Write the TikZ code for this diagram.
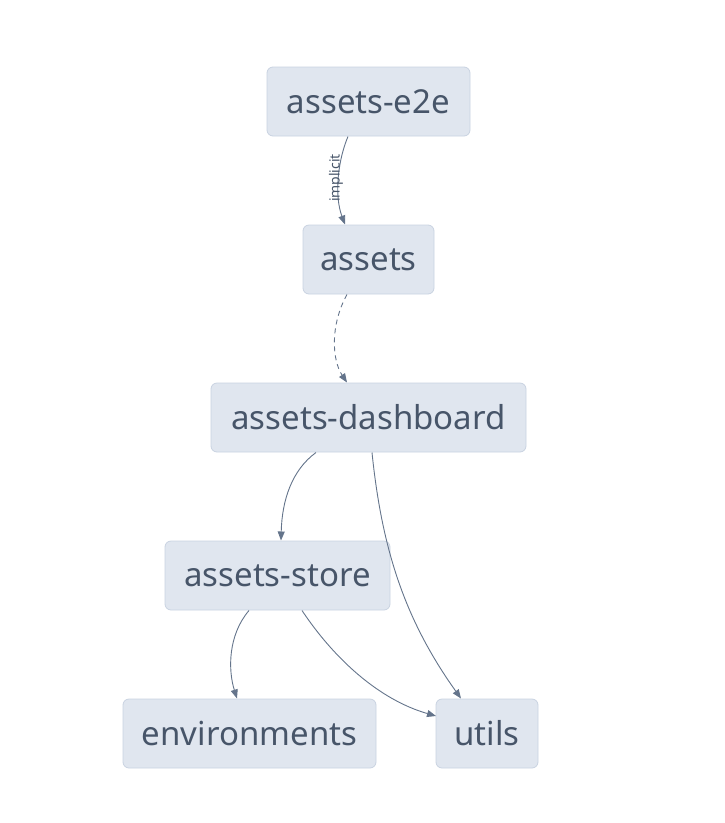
\documentclass[tikz,border=0pt]{standalone}
\usepackage{fontspec}
\setmainfont{Noto Sans}
\usetikzlibrary{arrows.meta}
\definecolor{boxfill}{HTML}{E0E6EF}
\definecolor{boxline}{HTML}{C9D3E1}
\definecolor{txt}{HTML}{475569}
\definecolor{edge}{HTML}{64748B}
\tikzset{
  mod/.style={draw=boxline, fill=boxfill, rounded corners=6pt, line width=0.8pt,
    text=txt, font=\fontsize{33}{38}\selectfont, inner sep=0pt, minimum height=69pt},
  dep/.style={draw=edge, line width=0.9pt, -{Triangle[length=9pt,width=7pt]}},
  lbl/.style={text=txt, font=\fontsize{14}{16}\selectfont, inner sep=0.5pt}
}
\begin{document}
\begin{tikzpicture}[x=1pt,y=-1pt]
\useasboundingbox (0,0) rectangle (725,823);
\node[mod, minimum width=203pt] (e2e) at (368.5,101.5) {assets-e2e};
\node[mod, minimum width=131pt] (assets) at (368.5,259.5) {assets};
\node[mod, minimum width=315pt] (dash) at (368.5,417.5) {assets-dashboard};
\node[mod, minimum width=225pt] (store) at (277.5,575.5) {assets-store};
\node[mod, minimum width=253pt] (env) at (249.5,733.5) {environments};
\node[mod, minimum width=102pt] (utils) at (487,733.5) {utils};

\coordinate (a1) at (348,136.5);
\coordinate (a2) at (345,224.5);
\draw[dep] (a1) .. controls (338,160) and (334,195) .. (a2);
\node[lbl, rotate=90] (impl) at (336,178) {implicit};

\coordinate (b1) at (347,294.5);
\coordinate (b2) at (347,382.5);
\draw[dep, dashed, dash pattern=on 5pt off 4pt] (b1) .. controls (330,325) and (332,360) .. (b2);

\coordinate (c1) at (316,452.5);
\coordinate (c2) at (281,540.5);
\draw[dep] (c1) .. controls (292,470) and (282,500) .. (c2);

\coordinate (d1) at (372,452.5);
\coordinate (d2) at (461,698.5);
\draw[dep] (d1) .. controls (382,550) and (405,620) .. (d2);

\coordinate (e1) at (249,610.5);
\coordinate (e2) at (237,698.5);
\draw[dep] (e1) .. controls (228,635) and (228,670) .. (e2);

\coordinate (f1) at (302,610.5);
\coordinate (f2) at (436,716);
\draw[dep] (f1) .. controls (335,660) and (380,700) .. (f2);
\end{tikzpicture}
\end{document}
